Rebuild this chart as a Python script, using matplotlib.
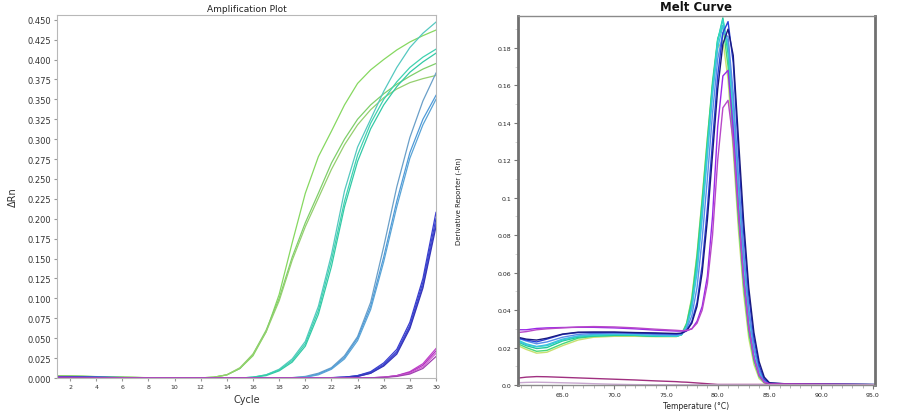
import numpy as np
import matplotlib
matplotlib.use("Agg")
import matplotlib.pyplot as plt
from matplotlib.ticker import MultipleLocator, FuncFormatter

# ---------------- Amplification plot data (delta Rn per cycle) ----------------
cycles = list(range(1, 31))

green_1 = [0.003, 0.0027, 0.0023, 0.0018, 0.0013, 0.0011, 0.0008, 0.0004, 0.0001, 0, 0, 0.0002,
           0.001, 0.004, 0.012, 0.028, 0.058, 0.105, 0.17, 0.232, 0.278, 0.31, 0.343, 0.37,
           0.387, 0.40, 0.412, 0.422, 0.43, 0.437]
green_2 = [0.0028, 0.0025, 0.0021, 0.0017, 0.0012, 0.001, 0.0007, 0.0003, 0.0001, 0, 0, 0.0002,
           0.001, 0.004, 0.012, 0.03, 0.06, 0.10, 0.152, 0.195, 0.232, 0.27, 0.30, 0.325,
           0.343, 0.357, 0.369, 0.379, 0.388, 0.395]
green_3 = [0.0025, 0.0023, 0.002, 0.0016, 0.0012, 0.001, 0.0007, 0.0003, 0.0001, 0, 0, 0.0002,
           0.001, 0.004, 0.013, 0.03, 0.058, 0.097, 0.148, 0.19, 0.226, 0.262, 0.293, 0.318,
           0.337, 0.352, 0.363, 0.371, 0.376, 0.38]
teal_1 = [0.0015, 0.0014, 0.0012, 0.001, 0.0008, 0.0006, 0.0004, 0.0002, 0, 0, 0, 0,
          0, 0, 0, 0.001, 0.004, 0.011, 0.024, 0.046, 0.09, 0.155, 0.235, 0.29,
          0.325, 0.36, 0.39, 0.415, 0.433, 0.447]
teal_2 = [0.0014, 0.0013, 0.0011, 0.0009, 0.0007, 0.0005, 0.0003, 0.0001, 0, 0, 0, 0,
          0, 0, 0, 0.001, 0.004, 0.010, 0.022, 0.043, 0.085, 0.148, 0.222, 0.28,
          0.32, 0.35, 0.372, 0.39, 0.403, 0.413]
teal_3 = [0.0013, 0.0012, 0.001, 0.0008, 0.0006, 0.0005, 0.0003, 0.0001, 0, 0, 0, 0,
          0, 0, 0, 0.001, 0.003, 0.009, 0.02, 0.04, 0.08, 0.14, 0.215, 0.272,
          0.313, 0.343, 0.366, 0.384, 0.397, 0.408]
cyan_1 = [0.0012, 0.0011, 0.001, 0.0008, 0.0006, 0.0005, 0.0004, 0.0002, 0, 0, 0, 0,
          0, 0, 0, 0, 0, 0, 0.0005, 0.002, 0.006, 0.013, 0.028, 0.052,
          0.095, 0.165, 0.24, 0.302, 0.348, 0.383]
cyan_2 = [0.0011, 0.001, 0.0009, 0.0007, 0.0006, 0.0005, 0.0003, 0.0001, 0, 0, 0, 0,
          0, 0, 0, 0, 0, 0, 0.0004, 0.001, 0.005, 0.012, 0.026, 0.05,
          0.09, 0.152, 0.222, 0.283, 0.325, 0.355]
cyan_3 = [0.001, 0.0009, 0.0008, 0.0007, 0.0005, 0.0004, 0.0003, 0.0001, 0, 0, 0, 0,
          0, 0, 0, 0, 0, 0, 0.0003, 0.001, 0.004, 0.011, 0.024, 0.047,
          0.086, 0.146, 0.215, 0.276, 0.318, 0.35]
blue_1 = [0.0012, 0.0011, 0.001, 0.0009, 0.0007, 0.0005, 0.0003, 0.0001, 0, 0, 0, 0,
          0, 0, 0, 0, 0, 0, 0, 0, 0.0002, 0.0005, 0.001, 0.003,
          0.008, 0.019, 0.036, 0.07, 0.125, 0.208]
blue_2 = [0.0011, 0.001, 0.0009, 0.0008, 0.0006, 0.0004, 0.0002, 0.0001, 0, 0, 0, 0,
          0, 0, 0, 0, 0, 0, 0, 0, 0.0002, 0.0004, 0.001, 0.003,
          0.007, 0.017, 0.033, 0.066, 0.12, 0.20]
blue_3 = [0.001, 0.0009, 0.0008, 0.0007, 0.0005, 0.0004, 0.0002, 0.0001, 0, 0, 0, 0,
          0, 0, 0, 0, 0, 0, 0, 0, 0.0001, 0.0004, 0.001, 0.002,
          0.006, 0.016, 0.032, 0.064, 0.116, 0.195]
blue_4 = [0.001, 0.0009, 0.0008, 0.0006, 0.0005, 0.0003, 0.0002, 0.0001, 0, 0, 0, 0,
          0, 0, 0, 0, 0, 0, 0, 0, 0.0001, 0.0003, 0.0008, 0.002,
          0.006, 0.015, 0.03, 0.062, 0.113, 0.19]
mag_1 = [0.0008, 0.0007, 0.0006, 0.0005, 0.0004, 0.0003, 0.0002, 0.0001, 0, 0, 0, 0,
         0, 0, 0, 0, 0, 0, 0, 0, 0, 0, 0, 0.0001,
         0.0003, 0.001, 0.003, 0.008, 0.018, 0.037]
mag_2 = [0.0007, 0.0006, 0.0005, 0.0004, 0.0003, 0.0002, 0.0001, 0, 0, 0, 0, 0,
         0, 0, 0, 0, 0, 0, 0, 0, 0, 0, 0, 0.0001,
         0.0003, 0.001, 0.003, 0.007, 0.016, 0.034]
mag_3 = [0.0006, 0.0005, 0.0004, 0.0003, 0.0002, 0.0002, 0.0001, 0, 0, 0, 0, 0,
         0, 0, 0, 0, 0, 0, 0, 0, 0, 0, 0, 0,
         0.0002, 0.001, 0.0025, 0.006, 0.014, 0.031]
mag_4 = [0.0005, 0.0004, 0.0004, 0.0003, 0.0002, 0.0001, 0.0001, 0, 0, 0, 0, 0,
         0, 0, 0, 0, 0, 0, 0, 0, 0, 0, 0, 0,
         0.0002, 0.0008, 0.002, 0.005, 0.012, 0.027]

amp_series = [green_1, green_2, green_3, teal_1, teal_2, teal_3, cyan_1, cyan_2, cyan_3,
              blue_1, blue_2, blue_3, blue_4, mag_1, mag_2, mag_3, mag_4]
amp_colors = ["#86d860", "#7fcf6a", "#95cf6f", "#55c8c0", "#3ed2b0", "#33c9a6",
              "#6a9fc8", "#4f9ad8", "#5aa4d6", "#3c3cd0", "#2f45c8", "#4a4ad8", "#3535b8",
              "#c040c8", "#b030c0", "#d060d0", "#a040b0"]
amp_yticks = [0.000, 0.025, 0.050, 0.075, 0.100, 0.125, 0.150, 0.175, 0.200, 0.225,
              0.250, 0.275, 0.300, 0.325, 0.350, 0.375, 0.400, 0.425, 0.450]
amp_xticks = list(range(2, 31, 2))

# ---------------- Melt curve data (derivative reporter per temperature) ----------------
temps = [60.7, 61.5, 62.5, 63.5, 65, 66.5, 68, 70, 72, 74, 76, 76.5, 77, 77.5, 78, 78.5,
         79, 79.5, 80, 80.5, 81, 81.5, 82, 82.5, 83, 83.5, 84, 84.5, 85, 87, 90, 95.2]

melt_lime = [0.021, 0.019, 0.017, 0.0175, 0.021, 0.024, 0.0255, 0.026, 0.026, 0.0258, 0.0258, 0.027,
             0.033, 0.047, 0.07, 0.10, 0.132, 0.16, 0.18, 0.184, 0.163, 0.125, 0.083, 0.049,
             0.025, 0.011, 0.0035, 0.001, 0.0005, 0.0005, 0.0004, 0.0002]
melt_green = [0.022, 0.02, 0.018, 0.0185, 0.022, 0.025, 0.026, 0.0265, 0.0265, 0.026, 0.026, 0.027,
              0.033, 0.046, 0.069, 0.099, 0.131, 0.162, 0.185, 0.192, 0.17, 0.13, 0.088, 0.053,
              0.028, 0.013, 0.0045, 0.0013, 0.0006, 0.0005, 0.0004, 0.0002]
melt_teal = [0.023, 0.021, 0.0195, 0.02, 0.0235, 0.0255, 0.0262, 0.0265, 0.0265, 0.026, 0.026, 0.0268,
             0.032, 0.044, 0.066, 0.096, 0.128, 0.16, 0.184, 0.196, 0.177, 0.137, 0.094, 0.058,
             0.031, 0.014, 0.0055, 0.0016, 0.0006, 0.0005, 0.0004, 0.0002]
melt_aqua = [0.024, 0.022, 0.0205, 0.021, 0.024, 0.026, 0.0265, 0.027, 0.0268, 0.0263, 0.026, 0.0268,
             0.031, 0.042, 0.063, 0.093, 0.126, 0.158, 0.184, 0.195, 0.18, 0.143, 0.099, 0.062,
             0.034, 0.016, 0.0065, 0.002, 0.0007, 0.0005, 0.0004, 0.0002]
melt_cyan = [0.0235, 0.0215, 0.0205, 0.0215, 0.0245, 0.0262, 0.027, 0.0272, 0.027, 0.0266, 0.0263, 0.027,
             0.031, 0.041, 0.06, 0.089, 0.122, 0.155, 0.18, 0.192, 0.183, 0.15, 0.106, 0.068,
             0.038, 0.019, 0.0075, 0.0022, 0.0007, 0.0005, 0.0004, 0.0002]
melt_ltblue = [0.025, 0.0235, 0.022, 0.023, 0.0255, 0.027, 0.0275, 0.0278, 0.0276, 0.027, 0.0268, 0.0272,
               0.03, 0.037, 0.052, 0.078, 0.11, 0.145, 0.174, 0.188, 0.186, 0.156, 0.112, 0.072,
               0.041, 0.021, 0.0085, 0.0026, 0.0008, 0.0005, 0.0004, 0.0002]
melt_blue = [0.025, 0.024, 0.023, 0.0245, 0.027, 0.028, 0.028, 0.028, 0.0278, 0.0275, 0.0272, 0.0275,
             0.029, 0.034, 0.044, 0.064, 0.094, 0.13, 0.165, 0.188, 0.194, 0.172, 0.125, 0.082,
             0.048, 0.025, 0.0105, 0.0032, 0.001, 0.0005, 0.0004, 0.0002]
melt_navy = [0.0255, 0.0245, 0.024, 0.025, 0.0272, 0.0282, 0.0283, 0.0283, 0.028, 0.0278, 0.0275, 0.0277,
             0.029, 0.033, 0.042, 0.06, 0.088, 0.123, 0.158, 0.182, 0.19, 0.176, 0.132, 0.088,
             0.052, 0.028, 0.0125, 0.0042, 0.0012, 0.0005, 0.0004, 0.0002]
melt_purple = [0.0295, 0.0295, 0.0302, 0.0305, 0.0307, 0.0308, 0.0308, 0.0305, 0.03, 0.0293, 0.0288, 0.0288,
               0.029, 0.03, 0.034, 0.042, 0.058, 0.09, 0.138, 0.165, 0.168, 0.137, 0.094, 0.057,
               0.031, 0.0145, 0.0052, 0.0015, 0.0006, 0.0005, 0.0004, 0.0002]
melt_magenta = [0.028, 0.0285, 0.0295, 0.03, 0.0305, 0.031, 0.0312, 0.031, 0.0305, 0.0298, 0.0292, 0.029,
                0.0292, 0.03, 0.033, 0.04, 0.054, 0.08, 0.12, 0.148, 0.152, 0.13, 0.092, 0.057,
                0.031, 0.0145, 0.0052, 0.0015, 0.0006, 0.0005, 0.0004, 0.0002]
melt_ntc_1 = [0.0037, 0.0042, 0.0045, 0.0044, 0.0041, 0.0038, 0.0035, 0.0031, 0.0027, 0.0022, 0.0018, 0.0016,
              0.0015, 0.0013, 0.0011, 0.0009, 0.0007, 0.0005, 0.0003, 0.0003, 0.0003, 0.0003, 0.0003, 0.0003,
              0.0003, 0.0003, 0.0003, 0.0003, 0.0003, 0.0003, 0.0003, 0.0002]
melt_ntc_2 = [0.0012, 0.0014, 0.0015, 0.0014, 0.0012, 0.001, 0.0007, 0.0004, 0.0002, 0.0001, 0.0001, 0.0001,
              0.0001, 0.0001, 0.0001, 0.0001, 0.0001, 0.0001, 0.0001, 0.0001, 0.0001, 0.0001, 0.0001, 0.0001,
              0.0001, 0.0001, 0.0001, 0.0001, 0.0001, 0.0001, 0.0001, 0.0001]

melt_series = [melt_lime, melt_green, melt_teal, melt_aqua, melt_cyan, melt_ltblue,
               melt_blue, melt_navy, melt_purple, melt_magenta, melt_ntc_1, melt_ntc_2]
melt_colors = ["#c8e070", "#48d878", "#20c89a", "#30d8c8", "#40c0e0", "#5a8ee8",
               "#2840d8", "#1a1a80", "#9a28e8", "#b848c8", "#a03080", "#c8a8d0"]
melt_yticks = [0.0, 0.02, 0.04, 0.06, 0.08, 0.1, 0.12, 0.14, 0.16, 0.18]
melt_xticks = [65.0, 70.0, 75.0, 80.0, 85.0, 90.0, 95.0]

# ---------------- figure ----------------
fig = plt.figure(figsize=(8.98, 4.14), dpi=100)

# amplification plot
ax1 = fig.add_axes([0.0635, 0.0845, 0.422, 0.877])
for vals, col in zip(amp_series, amp_colors):
    ax1.plot(cycles, vals, color=col, lw=0.9)
ax1.set_xlim(1, 30)
ax1.set_ylim(0, 0.456)
ax1.set_yticks(amp_yticks)
ax1.yaxis.set_major_formatter(FuncFormatter(lambda v, p: f"{v:.3f}"))
ax1.set_xticks(amp_xticks)
ax1.tick_params(axis="y", labelsize=6, length=2, color="#999999", labelcolor="#333333", pad=2)
ax1.tick_params(axis="x", labelsize=4.5, length=2, color="#999999", labelcolor="#333333", pad=2)
for s in ax1.spines.values():
    s.set_color("#b8b8b8")
    s.set_linewidth(0.8)
ax1.set_title("Amplification Plot", fontsize=6.5, color="#222222", pad=3)
ax1.set_xlabel("Cycle", fontsize=7, color="#333333", labelpad=4)
ax1.set_ylabel("ΔRn", fontsize=7, color="#333333")
ax1.yaxis.set_label_coords(-0.103, 0.5)

# melt curve
ax2 = fig.add_axes([0.5768, 0.0676, 0.3976, 0.8913])
for vals, col in zip(melt_series, melt_colors):
    ax2.plot(temps, vals, color=col, lw=1.0)
ax2.set_xlim(60.7, 95.2)
ax2.set_ylim(0, 0.197)
ax2.set_yticks(melt_yticks)
ax2.set_yticklabels([("%g" % v) if v != 0 else "0.0" for v in melt_yticks])
ax2.set_xticks(melt_xticks)
ax2.set_xticklabels(["%.1f" % v for v in melt_xticks])
ax2.xaxis.set_minor_locator(MultipleLocator(1))
ax2.yaxis.set_minor_locator(MultipleLocator(0.01))
ax2.tick_params(axis="both", which="major", labelsize=4.5, length=3, color="#777777",
                labelcolor="#222222", pad=2)
ax2.tick_params(axis="x", which="minor", length=2, color="#aaaaaa")
ax2.tick_params(axis="y", which="minor", length=2, color="#d0d0d0")
for side in ["left", "right"]:
    ax2.spines[side].set_color("#707070")
    ax2.spines[side].set_linewidth(2.0)
for side in ["top", "bottom"]:
    ax2.spines[side].set_color("#8a8a8a")
    ax2.spines[side].set_linewidth(1.0)
ax2.set_title("Melt Curve", fontsize=8.5, fontweight="bold", color="#111111", pad=4)
ax2.set_xlabel("Temperature (°C)", fontsize=5.5, color="#222222", labelpad=3)
ax2.set_ylabel("Derivative Reporter (-Rn)", fontsize=5, color="#222222")
ax2.yaxis.set_label_coords(-0.157, 0.5)

fig.savefig("out.png", dpi=100)
